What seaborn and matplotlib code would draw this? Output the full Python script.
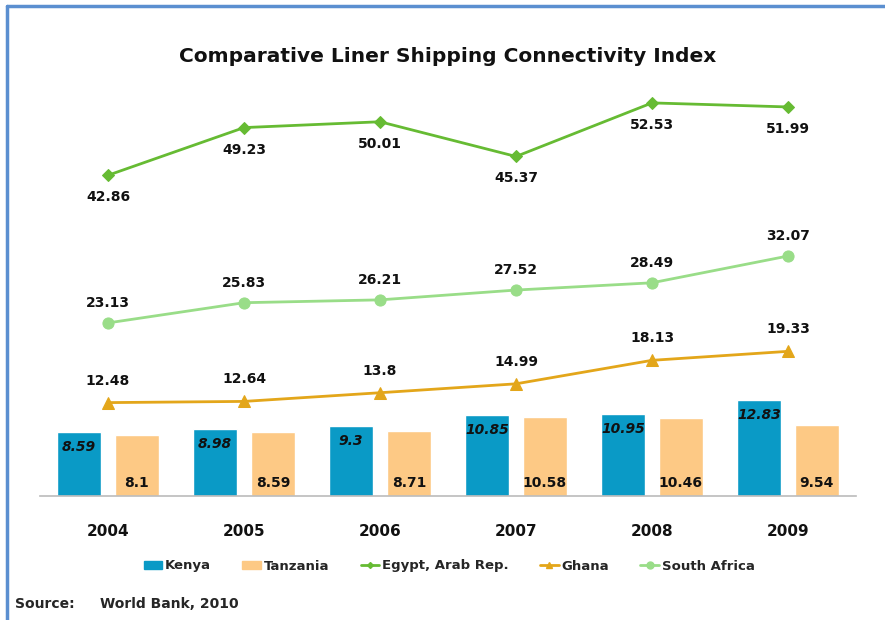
import matplotlib
matplotlib.use("Agg")
import matplotlib.pyplot as plt
from matplotlib.lines import Line2D
from matplotlib.patches import Patch
import seaborn as sns
import pandas as pd

years = ["2004", "2005", "2006", "2007", "2008", "2009"]
kenya = [8.59, 8.98, 9.3, 10.85, 10.95, 12.83]
tanzania = [8.1, 8.59, 8.71, 10.58, 10.46, 9.54]
egypt = [42.86, 49.23, 50.01, 45.37, 52.53, 51.99]
ghana = [12.48, 12.64, 13.8, 14.99, 18.13, 19.33]
south_africa = [23.13, 25.83, 26.21, 27.52, 28.49, 32.07]

bar_colors = {"Kenya": "#0A9AC6", "Tanzania": "#FDC985"}
line_styles = {
    "Egypt, Arab Rep.": ("#66BB33", "D", 6),
    "Ghana": ("#E3A61A", "^", 8),
    "South Africa": ("#99DD88", "o", 8),
}

sns.set_theme(style="white")
plt.rcParams["font.family"] = ["DejaVu Sans"]

fig = plt.figure(figsize=(8.85, 6.2), dpi=100)
ax = fig.add_axes([40 / 885, 124 / 620, 816 / 885, 449 / 620])

bars = pd.DataFrame({
    "year": years * 2,
    "value": kenya + tanzania,
    "country": ["Kenya"] * 6 + ["Tanzania"] * 6,
})
sns.barplot(data=bars, x="year", y="value", hue="country", palette=bar_colors,
            width=0.85, gap=0.24, saturation=1, legend=False, ax=ax)

lines = pd.DataFrame({
    "year": years * 3,
    "value": egypt + ghana + south_africa,
    "country": ["Egypt, Arab Rep."] * 6 + ["Ghana"] * 6 + ["South Africa"] * 6,
})
for name, (color, marker, ms) in line_styles.items():
    sub = lines[lines["country"] == name]
    sns.lineplot(data=sub, x="year", y="value", color=color, marker=marker,
                 markersize=ms, markeredgecolor=color, linewidth=2,
                 legend=False, ax=ax)

# bar value labels: Kenya inside the top, Tanzania inside the base
kenya_bars = ax.containers[0]
tanz_bars = ax.containers[1]
for rect, v in zip(kenya_bars, kenya):
    ax.annotate(f"{v:g}", (rect.get_x() + rect.get_width() / 2, v),
                xytext=(0, -15), textcoords="offset pixels",
                ha="center", va="center", fontsize=10, fontweight="bold",
                fontstyle="italic", color="#111111")
for rect, v in zip(tanz_bars, tanzania):
    ax.annotate(f"{v:g}", (rect.get_x() + rect.get_width() / 2, 0),
                xytext=(0, 13), textcoords="offset pixels",
                ha="center", va="center", fontsize=10, fontweight="bold",
                color="#111111")

# line value labels
for i, v in enumerate(egypt):
    ax.annotate(f"{v:g}", (i, v), xytext=(0, -22), textcoords="offset pixels",
                ha="center", va="center", fontsize=10, fontweight="bold", color="#111111")
for i, v in enumerate(south_africa):
    ax.annotate(f"{v:g}", (i, v), xytext=(0, 20), textcoords="offset pixels",
                ha="center", va="center", fontsize=10, fontweight="bold", color="#111111")
for i, v in enumerate(ghana):
    ax.annotate(f"{v:g}", (i, v), xytext=(0, 22), textcoords="offset pixels",
                ha="center", va="center", fontsize=10, fontweight="bold", color="#111111")

ax.set_xlim(-0.5, 5.5)
ax.set_ylim(0, 60)
ax.set_xlabel("")
ax.set_ylabel("")
ax.set_yticks([])
ax.tick_params(axis="x", length=0, pad=20, labelsize=11, labelcolor="#111111")
for lbl in ax.get_xticklabels():
    lbl.set_fontweight("bold")
for s in ["top", "right", "left"]:
    ax.spines[s].set_visible(False)
ax.spines["bottom"].set_color("#BBBBBB")
ax.spines["bottom"].set_linewidth(1.2)

fig.text(448 / 885, 1 - 57 / 620, "Comparative Liner Shipping Connectivity Index",
         ha="center", va="center", fontsize=14.5, fontweight="bold", color="#111111")

handles = [
    Patch(color=bar_colors["Kenya"], label="Kenya"),
    Patch(color=bar_colors["Tanzania"], label="Tanzania"),
]
for name, (color, marker, ms) in line_styles.items():
    handles.append(Line2D([], [], color=color, marker=marker, markersize=ms - 3,
                          linewidth=2, label=name))
fig.legend(handles=handles, loc="center", bbox_to_anchor=(449 / 885, 1 - 566 / 620),
           ncol=5, frameon=False, handlelength=1.4, handleheight=0.6,
           handletextpad=0.2, columnspacing=2.4,
           prop={"weight": "bold", "size": 9.5})

fig.text(15 / 885, 1 - 604 / 620, "Source:", ha="left", va="center",
         fontsize=10, fontweight="bold")
fig.text(100 / 885, 1 - 604 / 620, "World Bank, 2010", ha="left", va="center",
         fontsize=10, fontweight="bold")

# frame lines along top and left edges
fig.add_artist(Line2D([7 / 885, 1], [1 - 6 / 620, 1 - 6 / 620],
                      transform=fig.transFigure, color="#5B8FD0", linewidth=2.5))
fig.add_artist(Line2D([7 / 885, 7 / 885], [0, 1 - 6 / 620],
                      transform=fig.transFigure, color="#5B8FD0", linewidth=2.5))

fig.savefig("out.png", dpi=100)
